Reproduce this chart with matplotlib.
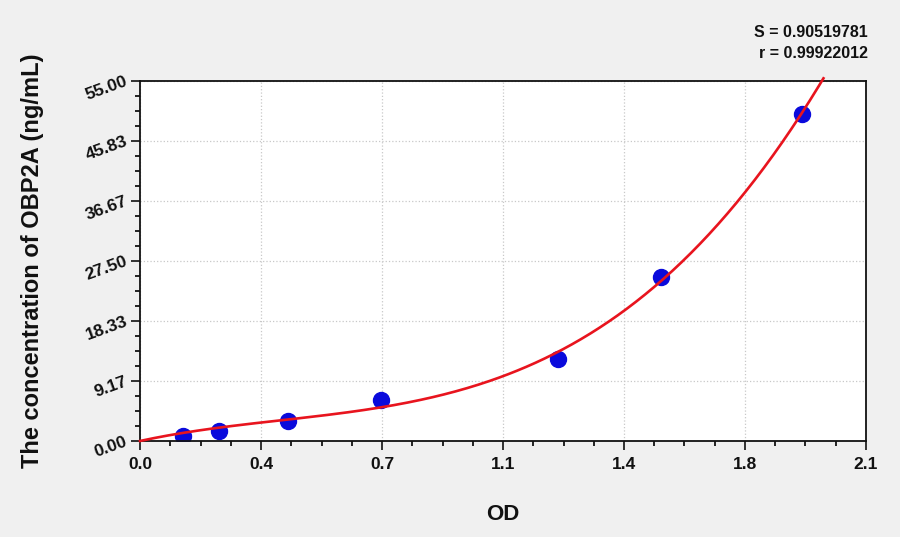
import numpy as np
import matplotlib
matplotlib.use("Agg")
from matplotlib import pyplot as plt
from matplotlib.ticker import FixedLocator, AutoMinorLocator

# standard points
od = [0.125, 0.229, 0.427, 0.697, 1.208, 1.506, 1.914]
conc = [0.78, 1.56, 3.125, 6.25, 12.5, 25.0, 50.0]

x_ticks = [0.0, 0.35, 0.7, 1.05, 1.4, 1.75, 2.1]
x_labels = ["0.0", "0.4", "0.7", "1.1", "1.4", "1.8", "2.1"]
y_ticks = [0.0, 9.1667, 18.3333, 27.5, 36.6667, 45.8333, 55.0]
y_labels = ["0.00", "9.17", "18.33", "27.50", "36.67", "45.83", "55.00"]

fit_text = "S = 0.90519781\nr = 0.99922012"

plt.rcParams["font.family"] = ["Liberation Sans", "DejaVu Sans"]
plt.rcParams["font.weight"] = "bold"

fig = plt.figure(figsize = (9, 5.37), dpi = 100, facecolor = "#f0f0f0")
ax = fig.add_axes([0.1556, 0.1788, 0.8066, 0.6703])
ax.set_facecolor("white")

# cubic standard curve through the origin, least squares on the points
x = np.array(od)
A = np.column_stack([x, x**2, x**3])
coef = np.linalg.lstsq(A, np.array(conc), rcond = None)[0]
xs = np.linspace(0, 1.977, 300)
ys = coef[0] * xs + coef[1] * xs**2 + coef[2] * xs**3
ax.plot(xs, ys, color = "#e8141e", lw = 1.9, clip_on = False, zorder = 3)
ax.plot(od, conc, "o", color = "#0a0adc", ms = 11.5, zorder = 2)

ax.set_xlim(0, 2.1)
ax.set_ylim(0, 55)
ax.xaxis.set_major_locator(FixedLocator(x_ticks))
ax.yaxis.set_major_locator(FixedLocator(y_ticks))
ax.set_xticklabels(x_labels)
ax.set_yticklabels(y_labels, rotation = 20, ha = "right", va = "center", rotation_mode = "anchor")
ax.xaxis.set_minor_locator(AutoMinorLocator(4))
ax.yaxis.set_minor_locator(AutoMinorLocator(4))
ax.tick_params(which = "major", direction = "out", length = 6.5, width = 1.2, labelsize = 12.5, colors = "#111111")
ax.tick_params(which = "minor", direction = "out", length = 3.6, width = 1.2)
ax.tick_params(axis = "x", pad = 5)
ax.tick_params(axis = "y", pad = 3)

ax.grid(True, which = "major", color = "#c8c8c8", ls = ":", lw = 0.9)
for s in ax.spines.values():
    s.set_linewidth(1.3)
    s.set_color("#111111")

ax.set_xlabel("OD", fontsize = 16, fontweight = "bold", labelpad = 23, color = "#111111")
ax.set_ylabel("The concentration of OBP2A (ng/mL)", fontsize = 17, fontweight = "bold", labelpad = 28, color = "#111111")

fig.text(0.9644, 0.954, fit_text, ha = "right", va = "top", fontsize = 11.5, fontweight = "bold",
         color = "#111111", linespacing = 1.55)

fig.savefig("out.png", dpi = 100, facecolor = fig.get_facecolor())
